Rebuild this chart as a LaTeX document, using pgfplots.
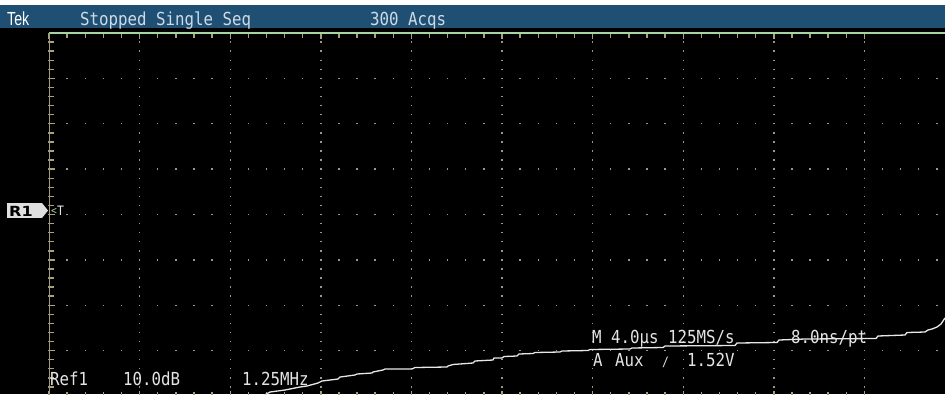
\documentclass[border=0pt]{standalone}
\usepackage{pgfplots}
\pgfplotsset{compat=1.18}
\usepackage{fontspec}
\setmainfont[FakeStretch=0.88]{DejaVu Sans Mono}
\newfontfamily\tekfont[FakeStretch=0.75]{Liberation Sans}
\newfontfamily\rfont[FakeStretch=1.15]{DejaVu Sans}
\definecolor{hdr}{RGB}{31,79,114}
\definecolor{hdrtext}{RGB}{205,218,232}
\definecolor{grn}{RGB}{168,212,160}
\definecolor{tickc}{RGB}{170,162,120}
\definecolor{dotc}{RGB}{150,150,150}
\definecolor{trace}{RGB}{232,232,232}
\definecolor{btxt}{RGB}{228,228,228}
\begin{document}
\begin{tikzpicture}[x=1bp,y=1bp]
\fill[black] (0,0) rectangle (945,394);
\fill[white] (0,389) rectangle (945,394);
\fill[hdr] (0,366) rectangle (945,389);
\begin{axis}[at={(49,2)}, anchor=south west, scale only axis,
  width=896bp, height=363bp,
  xmin=49, xmax=945, ymin=29, ymax=392, y dir=reverse,
  axis line style={draw=none},
  xtick={49,139.6,230.2,320.8,411.4,502,592.6,683.2,773.8,864.4},
  ytick={29,74.375,119.75,165.125,210.5,255.875,301.25,346.625,392},
  xticklabels={}, yticklabels={},
  minor x tick num=4, minor y tick num=4,
  xtick pos=both, ytick pos=left, tick align=inside,
  major tick length=5.5bp, minor tick length=4.5bp,
  tick style={tickc, line width=1.4bp},
  grid=major,
  x grid style={dotc, line width=1.4bp, dash pattern=on 1.4bp off 7.675bp, dash phase=0.7bp},
  y grid style={dotc, line width=1.4bp, dash pattern=on 1.4bp off 16.72bp, dash phase=0.7bp},
]
\draw[grn, line width=2bp] (rel axis cs:0,1) -- (rel axis cs:1,1);
\draw[tickc!80!gray, line width=1.5bp] (rel axis cs:0,1) -- (rel axis cs:0,0) -- (rel axis cs:1,0);
\addplot[trace, line width=1.3bp] coordinates {
(258,394)(262,392.5)(270,388)(285,386)(300,383)(307,382)(318,379)(322,377)(338,375)(340,373)
(355,371)(357,370)(372,369)(373,368)(383,366)(385,365)(412,365)(415,363.5)(447,363)(448,362)
(453,360.5)(473,359)(475,357)(493,356)(494,354)(502,354)(504,352.5)(517,352)(519,350)(533,349.5)
(535,348.5)(560,348)(562,347)(588,346.5)(590,345.5)(630,345)(632,344)(663,343.5)(665,342)
(735,341.5)(737,339)(777,338.5)(779,336)(805,335)(876,334.5)(878,332)(905,331)(907,328.5)
(925,328)(928,326)(932,325)(937,323)(941,320)(945,314)
};
\end{axis}
% header texts
\node[anchor=base west, inner sep=0, text=white, font=\tekfont\fontsize{19}{19}\selectfont] at (7,369) {Tek};
\node[anchor=base west, inner sep=0, text=hdrtext, font=\fontsize{18}{18}\selectfont] at (80,369) {Stopped Single Seq};
\node[anchor=base west, inner sep=0, text=hdrtext, font=\fontsize{18}{18}\selectfont] at (370,369) {300 Acqs};
% R1 marker
\fill[gray!25!white] (7,176) rectangle (42,191);
\fill[gray!25!white] (42,176) -- (42,191) -- (48,183.5) -- cycle;
\node[anchor=base west, inner sep=0, text=black, font=\rfont\bfseries\fontsize{14}{14}\selectfont] at (9,178) {R1};
\node[anchor=base west, inner sep=0, text=grn, font=\fontsize{11}{11}\selectfont] at (51,179.5) {<};
\node[anchor=base west, inner sep=0, text=btxt, font=\fontsize{13}{13}\selectfont] at (57,179) {T};
% bottom texts
\node[anchor=base west, inner sep=0, text=btxt, font=\fontsize{18}{18}\selectfont] at (50,9) {Ref1};
\node[anchor=base west, inner sep=0, text=btxt, font=\fontsize{18}{18}\selectfont] at (123,9) {10.0dB};
\node[anchor=base west, inner sep=0, text=btxt, font=\fontsize{18}{18}\selectfont] at (242,9) {1.25MHz};
\node[anchor=base west, inner sep=0, text=btxt, font=\fontsize{18}{18}\selectfont] at (592,51) {M 4.0µs 125MS/s};
\node[anchor=base west, inner sep=0, text=btxt, font=\fontsize{18}{18}\selectfont] at (791,51) {8.0ns/pt};
\node[anchor=base west, inner sep=0, text=btxt, font=\fontsize{18}{18}\selectfont] at (593,27.5) {A};
\node[anchor=base west, inner sep=0, text=btxt, font=\fontsize{18}{18}\selectfont] at (615,27.5) {Aux};
\node[anchor=base west, inner sep=0, text=btxt, font=\fontsize{13}{13}\selectfont] at (662,28) {/};
\node[anchor=base west, inner sep=0, text=btxt, font=\fontsize{18}{18}\selectfont] at (687,27.5) {1.52V};
\pgfresetboundingbox
\path[use as bounding box] (0,0) rectangle (945,394);
\end{tikzpicture}
\end{document}
